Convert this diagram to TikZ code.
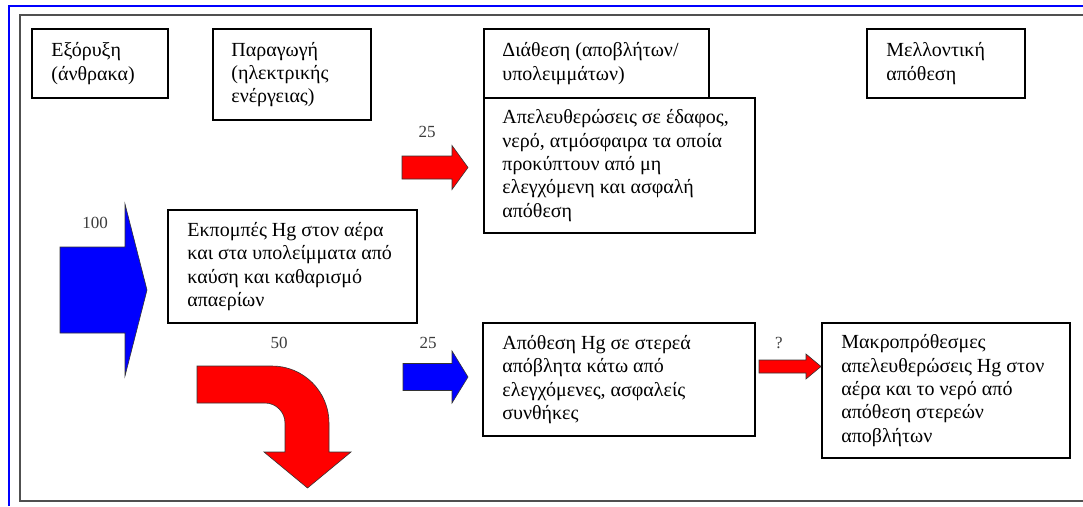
\documentclass[tikz,border=0pt]{standalone}
\usepackage{fontspec}
\setmainfont{Liberation Serif}
\definecolor{framegray}{RGB}{80,80,80}
\definecolor{labelgray}{RGB}{60,60,60}
\definecolor{flowred}{RGB}{255,0,0}
\definecolor{flowblue}{RGB}{0,0,255}
% straight block arrow: #1 fill, #2 tail x, #3 head base x, #4 tip x,
% #5 centre y, #6 half shaft height, #7 half head height
\newcommand\blockharrow[7]{%
  \filldraw[arrowshape, fill=#1]
    (#2,#5-#6) -- (#3,#5-#6) -- (#3,#5-#7) -- (#4,#5)
    -- (#3,#5+#7) -- (#3,#5+#6) -- (#2,#5+#6) -- cycle;}
\begin{document}
\begin{tikzpicture}[x=1pt,y=-1pt,
  box/.style={draw=black, line width=1.6pt, inner sep=0pt},
  boxtext/.style={anchor=west, align=left, inner sep=0pt,
    font=\fontsize{20}{23.3}\selectfont},
  flowlabel/.style={text=labelgray, inner sep=0pt,
    font=\fontsize{17}{19}\selectfont},
  arrowshape/.style={draw=black!80, line width=0.6pt, line join=miter}]
\useasboundingbox (0,0) rectangle (1083,506);
\fill[white] (0,0) rectangle (1083,506);

% page frames
\draw[flowblue, line width=2pt] (9,506) -- (9,6) -- (1083,6);
\draw[framegray, line width=2pt] (1083,14.5) -- (19.5,14.5) -- (19.5,500.5) -- (1083,500.5);

% column headers
\node[box, minimum width=136pt, minimum height=69pt] (mine) at (100,63.5) {};
\node[boxtext] (minet) at ([xshift=20pt]mine.west) {Εξόρυξη\\(άνθρακα)};

\node[box, minimum width=158pt, minimum height=91pt] (prod) at (292,74.5) {};
\node[boxtext] (prodt) at ([xshift=19pt]prod.west) {Παραγωγή\\(ηλεκτρικής\\ενέργειας)};

\node[box, minimum width=225pt, minimum height=69pt] (disp) at (596.5,63.5) {};
\node[boxtext] (dispt) at ([xshift=19pt]disp.west) {Διάθεση (αποβλήτων/\\υπολειμμάτων)};

\node[box, minimum width=158pt, minimum height=69pt] (future) at (946,63.5) {};
\node[boxtext] (futuret) at ([xshift=20pt]future.west) {Μελλοντική\\απόθεση};

% process boxes
\node[box, minimum width=271pt, minimum height=135pt] (release) at (619.5,165.5) {};
\node[boxtext] (releaset) at ([xshift=19pt]release.west)
  {Απελευθερώσεις σε έδαφος,\\νερό, ατμόσφαιρα τα οποία\\προκύπτουν από μη\\ελεγχόμενη και ασφαλή\\απόθεση};

\node[box, minimum width=249pt, minimum height=113pt] (emis) at (292.5,266.5) {};
\node[boxtext] (emist) at ([xshift=20pt]emis.west)
  {Εκπομπές Hg στον αέρα\\και στα υπολείμματα από\\καύση και καθαρισμό\\απαερίων};

\node[box, minimum width=272pt, minimum height=113pt] (solid) at (619,379.5) {};
\node[boxtext] (solidt) at ([xshift=20pt]solid.west)
  {Απόθεση Hg σε στερεά\\απόβλητα κάτω από\\ελεγχόμενες, ασφαλείς\\συνθήκες};

\node[box, minimum width=248pt, minimum height=135pt] (longterm) at (946,390.5) {};
\node[boxtext] (longtermt) at ([xshift=20pt]longterm.west)
  {Μακροπρόθεσμες\\απελευθερώσεις Hg στον\\αέρα και το νερό από\\απόθεση στερεών\\αποβλήτων};

% flow arrows
\blockharrow{flowblue}{60}{125}{147}{290}{43}{86}
\blockharrow{flowred}{402}{452}{468}{167.5}{11.5}{22}
\blockharrow{flowblue}{403}{452}{468}{377}{13.5}{26}
\blockharrow{flowred}{759}{806}{821}{366.5}{6.5}{12.5}

% bent arrow carrying the remaining share downwards
\filldraw[arrowshape, fill=flowred]
  (197,366) -- (272,366) .. controls (303.5,366) and (329,391.5) .. (329,423)
  -- (329,452) -- (351,452) -- (307.5,488) -- (264,452) -- (285,452)
  -- (285,423) .. controls (285,412) and (276,403) .. (265,403)
  -- (197,403) -- cycle;

% flow quantities
\node[flowlabel] (q100) at (95,223) {100};
\node[flowlabel] (q25a) at (427,132) {25};
\node[flowlabel] (q50) at (279,343) {50};
\node[flowlabel] (q25b) at (428,343) {25};
\node[flowlabel] (qunk) at (779,343) {?};
\end{tikzpicture}
\end{document}
